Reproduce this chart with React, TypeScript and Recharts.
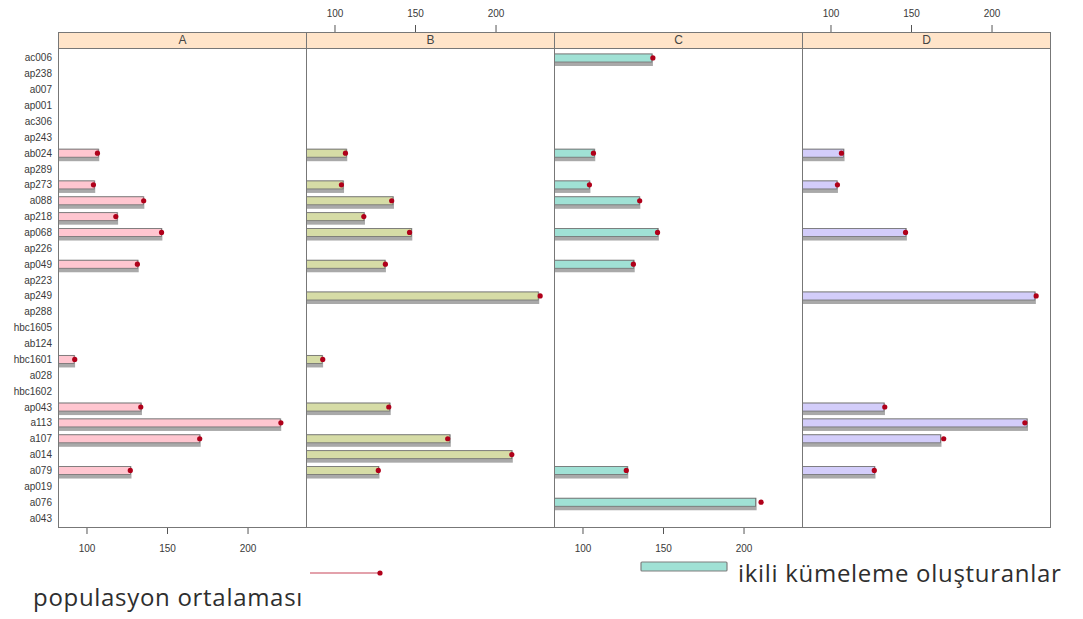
import { Bar, ComposedChart, Line, XAxis, YAxis } from 'recharts';

const W = 1083;
const H = 619;
const PLOT_TOP = 32;
const PLOT_BOTTOM = 527;
const PANEL_W = 248;

// rows, top to bottom
const categories = [
  'ac006', 'ap238', 'a007', 'ap001', 'ac306', 'ap243', 'ab024', 'ap289', 'ap273', 'a088',
  'ap218', 'ap068', 'ap226', 'ap049', 'ap223', 'ap249', 'ap288', 'hbc1605', 'ab124', 'hbc1601',
  'a028', 'hbc1602', 'ap043', 'a113', 'a107', 'a014', 'a079', 'ap019', 'a076', 'a043',
];

const populationMean = [
  143.4, null, null, null, null, null, 106.5, null, 104, 135.2,
  117.9, 146.3, null, 131.3, null, 227.4, null, null, null, 92.4,
  null, null, 133.4, 220.4, 170, 209.8, 126.9, null, 210.6, null,
];

const panelA = [
  null, null, null, null, null, null, 107, null, 104.5, 135,
  118.7, 146.2, null, 131.5, null, null, null, null, null, 92,
  null, null, 133.5, 220, 170, null, 127, null, null, null,
];
const panelB = [
  null, null, null, null, null, null, 107, null, 105, 136,
  118, 147.4, null, 131, null, 226.2, null, null, null, 92,
  null, null, 134, null, 171.3, 209.8, 127, null, null, null,
];
const panelC = [
  142.8, null, null, null, null, null, 107, null, 104, 135,
  null, 146.5, null, 131.5, null, null, null, null, null, null,
  null, null, null, null, null, null, 127.5, null, 207.2, null,
];
const panelD = [
  null, null, null, null, null, null, 107.8, null, 103.7, null,
  null, 146.5, null, null, null, 226.6, null, null, null, null,
  null, null, 132.9, 221.7, 168, null, 127, null, null, null,
];

const panelNames = ['A', 'B', 'C', 'D'];
const panelValues = [panelA, panelB, panelC, panelD];
const panelFills = ['#ffc6d0', '#d6dca6', '#a0e1d5', '#d3cdfa'];
const panelLeft = [58, 306, 554, 802];
const xTicks = [100, 150, 200];

const axisFont = { fontSize: 10, fill: '#3a3a3a', fontFamily: 'Liberation Sans, Arial, sans-serif' };

const ShadowBar = (props: any) => {
  const { x, y, width, height, fill } = props;
  if (!(width > 0)) return <g />;
  return (
    <g>
      <rect x={x} y={y - 0.5} width={width + 1} height={height + 4.5} fill="#8c8c8c" fillOpacity={0.75} />
      <rect x={x} y={y} width={width} height={height} fill={fill} stroke="#707070" strokeWidth={0.8} />
    </g>
  );
};

function Panel({ idx }: { idx: number }) {
  const values = panelValues[idx];
  const data = categories.map((name, i) => ({
    name,
    value: values[i],
    mean: values[i] == null ? null : populationMean[i],
  }));
  const left = panelLeft[idx];
  const showY = idx === 0;
  const topLabels = idx % 2 === 1;

  return (
    <div style={{ position: 'absolute', left: 0, top: 0 }}>
      <ComposedChart
        width={W}
        height={H}
        layout="vertical"
        data={data}
        margin={{ top: PLOT_TOP - 24, bottom: H - PLOT_BOTTOM - 30, left: showY ? 0 : left, right: W - left - PANEL_W }}
      >
        <XAxis
          xAxisId="bottom"
          orientation="bottom"
          type="number"
          domain={[82, 236]}
          allowDataOverflow
          ticks={xTicks}
          height={30}
          axisLine={false}
          tickSize={7}
          tickMargin={11}
          stroke="#555"
          tick={topLabels ? false : axisFont}
        />
        <XAxis
          xAxisId="top"
          orientation="top"
          type="number"
          domain={[82, 236]}
          allowDataOverflow
          ticks={xTicks}
          height={24}
          axisLine={false}
          tickSize={7}
          tickMargin={8}
          stroke="#555"
          tick={topLabels ? axisFont : false}
        />
        <YAxis
          type="category"
          dataKey="name"
          width={showY ? 58 : 0}
          hide={!showY}
          padding={{ top: 18, bottom: 1 }}
          axisLine={false}
          tickLine={false}
          tickSize={0}
          tickMargin={6}
          interval={0}
          tick={axisFont}
        />
        <Bar
          xAxisId="bottom"
          dataKey="value"
          fill={panelFills[idx]}
          barSize={8}
          shape={ShadowBar}
          isAnimationActive={false}
        />
        <Line
          xAxisId="bottom"
          dataKey="mean"
          stroke="none"
          dot={{ r: 2.6, fill: '#b0001a', stroke: 'none' }}
          activeDot={false}
          isAnimationActive={false}
        />
      </ComposedChart>
    </div>
  );
}

export default function App() {
  return (
    <div style={{ position: 'absolute', left: 0, top: 0, width: W, height: H, background: '#fff', overflow: 'hidden' }}>
      {panelNames.map((_, i) => (
        <Panel key={i} idx={i} />
      ))}
      {panelNames.map((name, i) => (
        <div key={name}>
          <div
            style={{
              position: 'absolute',
              left: panelLeft[i],
              top: PLOT_TOP,
              width: PANEL_W + 1,
              height: PLOT_BOTTOM - PLOT_TOP + 1,
              border: '1px solid #777',
              boxSizing: 'border-box',
              pointerEvents: 'none',
            }}
          />
          <div
            style={{
              position: 'absolute',
              left: panelLeft[i],
              top: PLOT_TOP,
              width: PANEL_W + 1,
              height: 17,
              background: '#ffe4c9',
              border: '1px solid #777',
              boxSizing: 'border-box',
              textAlign: 'center',
              font: '12px Liberation Sans, Arial, sans-serif',
              lineHeight: '15px',
              color: '#444',
            }}
          >
            {name}
          </div>
        </div>
      ))}
      <svg style={{ position: 'absolute', left: 0, top: 0 }} width={W} height={H}>
        <line x1={310} y1={573} x2={380} y2={573} stroke="#e3a1ab" strokeWidth={2} />
        <circle cx={380} cy={573} r={2.6} fill="#b0001a" />
        <rect x={641} y={562} width={86} height={9} fill="#a0e1d5" stroke="#7f7f7f" strokeWidth={1.2} rx={1} />
      </svg>
      <div
        style={{
          position: 'absolute',
          left: 33,
          top: 580,
          font: '24px "Open Sans", sans-serif',
          letterSpacing: 0.7,
          color: '#2e2e2e',
          whiteSpace: 'nowrap',
        }}
      >
        populasyon ortalaması
      </div>
      <div
        style={{
          position: 'absolute',
          left: 738,
          top: 556,
          font: '24px "Open Sans", sans-serif',
          letterSpacing: 0.7,
          color: '#2e2e2e',
          whiteSpace: 'nowrap',
        }}
      >
        ikili kümeleme oluşturanlar
      </div>
    </div>
  );
}
